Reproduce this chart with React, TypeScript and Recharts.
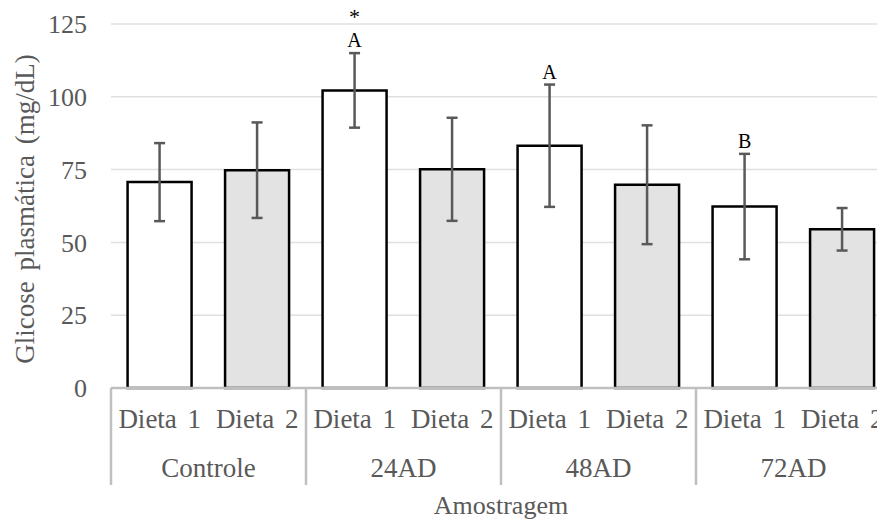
import React from "react";
import { BarChart, Bar, XAxis, YAxis, CartesianGrid, ErrorBar, Cell, LabelList } from "recharts";

// two-level categories
const diets = ["Dieta 1", "Dieta 2", "Dieta 1", "Dieta 2", "Dieta 1", "Dieta 2", "Dieta 1", "Dieta 2"];
const groups = ["Controle", "Controle", "24AD", "24AD", "48AD", "48AD", "72AD", "72AD"];

// mean glucose and SD (mg/dL)
const means = [70.7, 74.8, 102.2, 75.1, 83.2, 69.8, 62.3, 54.5];
const errors = [13.4, 16.4, 12.8, 17.7, 21.0, 20.4, 18.1, 7.3];

// significance marks
const letters = ["", "", "A", "", "A", "", "B", ""];
const stars = ["", "", "*", "", "", "", "", ""];

const yTicks = [0, 25, 50, 75, 100, 125];

const data = diets.map((d, i) => ({ name: d, group: groups[i], mean: means[i], err: errors[i] }));

const FONT = "'Liberation Serif', 'Times New Roman', serif";
const GRAY_TEXT = "#595959";
const AXIS_GRAY = "#bfbfbf";

const DietTick = (props: any) => {
  const { x, y, payload, index } = props;
  const half = payload?.offset ?? 48.75;
  const first = index % 2 === 0;
  const last = index === diets.length - 1;
  return (
    <g>
      <text x={x} y={y + 40} textAnchor="middle" fill={GRAY_TEXT} fontSize={27} fontFamily={FONT} wordSpacing={4}>
        {payload.value}
      </text>
      {first && <line x1={x - half} x2={x - half} y1={y} y2={y + 97} stroke={AXIS_GRAY} strokeWidth={2.5} />}
      {last && <line x1={x + half} x2={x + half} y1={y} y2={y + 97} stroke={AXIS_GRAY} strokeWidth={2.5} />}
    </g>
  );
};

const GroupTick = (props: any) => {
  const { x, y, payload } = props;
  return (
    <text x={x} y={y + 37} textAnchor="middle" fill={GRAY_TEXT} fontSize={27} fontFamily={FONT}>
      {payload.value}
    </text>
  );
};

const renderMarks = (props: any) => {
  const { index } = props;
  const vb = props.viewBox && props.viewBox.width !== undefined ? props.viewBox : props;
  const { x, y, width, height } = vb;
  if (!letters[index] && !stars[index]) return null;
  const pxPerUnit = Math.abs(height) / means[index];
  const top = y - errors[index] * pxPerUnit;
  const cx = x + width / 2;
  return (
    <g>
      {letters[index] && (
        <text x={cx} y={top - 6} textAnchor="middle" fill="#000" fontSize={20} fontFamily={FONT}>
          {letters[index]}
        </text>
      )}
      {stars[index] && (
        <text x={cx} y={top - 29} textAnchor="middle" fill="#000" fontSize={22} fontFamily={FONT}>
          {stars[index]}
        </text>
      )}
    </g>
  );
};

const YLabel = (props: any) => {
  const { viewBox } = props;
  const cx = viewBox.x + 34;
  const cy = viewBox.y + viewBox.height / 2 + 3;
  return (
    <text
      x={cx}
      y={cy}
      transform={`rotate(-90, ${cx}, ${cy})`}
      textAnchor="middle"
      fill={GRAY_TEXT}
      fontSize={27}
      fontFamily={FONT}
      wordSpacing={4}
    >
      Glicose plasmática (mg/dL)
    </text>
  );
};

export default function App() {
  return (
    <div style={{ position: "fixed", left: 0, top: 0, width: 877, height: 520, overflow: "hidden", background: "#fff" }}>
      <BarChart
        width={891}
        height={520}
        data={data}
        margin={{ top: 24, right: 0, bottom: 0, left: 0 }}
        barCategoryGap="17%"
      >
        <CartesianGrid vertical={false} stroke="#e0e0e0" strokeWidth={1.5} />
        <XAxis
          dataKey="name"
          height={52}
          tickSize={0}
          tickMargin={0}
          tickLine={false}
          axisLine={{ stroke: AXIS_GRAY, strokeWidth: 2.5 }}
          tick={<DietTick />}
          interval={0}
        />
        <XAxis
          xAxisId="grp"
          dataKey="group"
          allowDuplicatedCategory={false}
          height={80}
          tickSize={0}
          tickMargin={0}
          tickLine={false}
          axisLine={false}
          tick={<GroupTick />}
          interval={0}
          label={{ value: "Amostragem", position: "insideBottom", offset: 6, fill: GRAY_TEXT, fontSize: 26, fontFamily: FONT }}
        />
        <YAxis
          width={111}
          domain={[0, 125]}
          ticks={yTicks}
          axisLine={false}
          tickLine={false}
          tickMargin={18}
          tick={{ fill: GRAY_TEXT, fontSize: 26, fontFamily: FONT }}
          label={<YLabel />}
        />
        <Bar dataKey="mean" stroke="#000" strokeWidth={2.5} isAnimationActive={false}>
          {data.map((d, i) => (
            <Cell key={i} fill={d.name === "Dieta 1" ? "#ffffff" : "#e3e3e3"} />
          ))}
          <ErrorBar dataKey="err" direction="y" width={5.5} stroke="#595959" strokeWidth={2.5} />
          <LabelList dataKey="mean" content={renderMarks} />
        </Bar>
      </BarChart>
    </div>
  );
}
